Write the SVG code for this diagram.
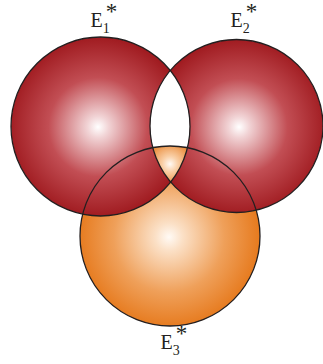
<svg xmlns="http://www.w3.org/2000/svg" width="323" height="364" viewBox="0 0 323 364">
<style>
.lbl{font-family:"Liberation Serif","Times New Roman",serif;fill:#231f20;font-size:20px}
.sub{font-size:14px}
.sup{font-size:23px}
.outline{fill:none;stroke:#231f20;stroke-width:1.3}
</style>
<defs>
<radialGradient id="gR1" gradientUnits="userSpaceOnUse" cx="98" cy="127" r="90">
<stop offset="0" stop-color="#ffffff"/>
<stop offset="0.12" stop-color="#f1d3d5"/>
<stop offset="0.55" stop-color="#c24e54"/>
<stop offset="1" stop-color="#a01b20"/>
</radialGradient>
<radialGradient id="gR2" gradientUnits="userSpaceOnUse" cx="239" cy="127" r="88">
<stop offset="0" stop-color="#ffffff"/>
<stop offset="0.12" stop-color="#f1d3d5"/>
<stop offset="0.55" stop-color="#c24e54"/>
<stop offset="1" stop-color="#a01b20"/>
</radialGradient>
<radialGradient id="gO" gradientUnits="userSpaceOnUse" cx="169" cy="237" r="92">
<stop offset="0" stop-color="#fffaf5"/>
<stop offset="0.15" stop-color="#fbe0c6"/>
<stop offset="0.6" stop-color="#efa05a"/>
<stop offset="1" stop-color="#e6791c"/>
</radialGradient>
<radialGradient id="gT" gradientUnits="userSpaceOnUse" cx="170" cy="164" r="26">
<stop offset="0" stop-color="#fffaf5"/>
<stop offset="0.3" stop-color="#f9cfa6"/>
<stop offset="1" stop-color="#e6791c"/>
</radialGradient>
<clipPath id="cXor">
<path clip-rule="evenodd" d="M11,126.5a89.5,89.5 0 1,0 179,0a89.5,89.5 0 1,0 -179,0Z M150,126a86.5,86.5 0 1,0 173,0a86.5,86.5 0 1,0 -173,0Z"/>
</clipPath>
<clipPath id="c1"><circle cx="100.5" cy="126.5" r="89.5"/></clipPath>
<clipPath id="c2"><circle cx="236.5" cy="126" r="86.5"/></clipPath>
</defs>
<rect width="323" height="364" fill="#ffffff"/>
<g id="fills">
<circle cx="170" cy="236" r="90" fill="url(#gO)"/>
<g clip-path="url(#cXor)">
<circle cx="100.5" cy="126.5" r="89.5" fill="url(#gR1)"/>
<circle cx="236.5" cy="126" r="86.5" fill="url(#gR2)"/>
</g>
<g clip-path="url(#c1)"><g clip-path="url(#c2)">
<circle cx="170" cy="236" r="90" fill="url(#gT)"/>
</g></g>
</g>
<g id="E1">
<circle class="outline" cx="100.5" cy="126.5" r="89.5"/>
<text class="lbl" x="90.5" y="27">E<tspan class="sub" dy="6">1</tspan><tspan class="sup" dx="-4" dy="-14.5">*</tspan></text>
</g>
<g id="E2">
<circle class="outline" cx="236.5" cy="126" r="86.5"/>
<text class="lbl" x="230.5" y="27">E<tspan class="sub" dy="6">2</tspan><tspan class="sup" dx="-4" dy="-14.5">*</tspan></text>
</g>
<g id="E3">
<circle class="outline" cx="170" cy="236" r="90"/>
<text class="lbl" x="160.5" y="349">E<tspan class="sub" dy="6">3</tspan><tspan class="sup" dx="-4" dy="-14.5">*</tspan></text>
</g>
<g id="connectors"/>
</svg>
